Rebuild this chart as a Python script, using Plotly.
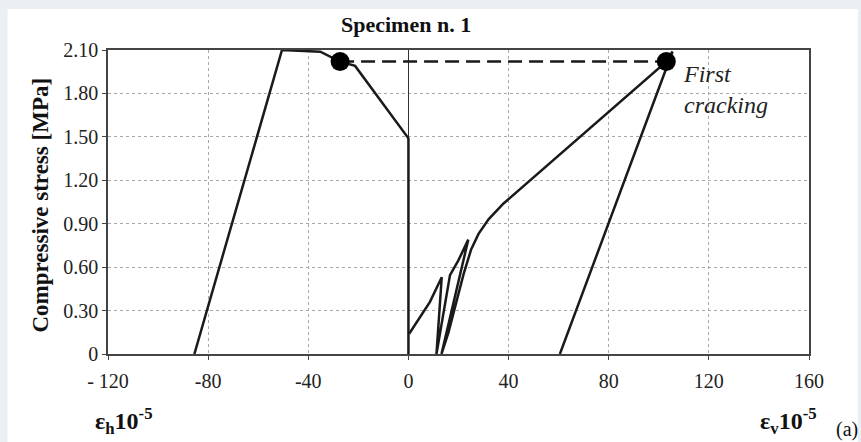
import plotly.graph_objects as go

# ---- data ----
eh_x = [0, 0, -21.3, -27.3, -35.2, -50.5, -85.5]
eh_y = [0, 1.49, 1.99, 2.02, 2.088, 2.10, 0]

ev_x = [0.3, 4.0, 8.6, 13.3, 11.2, 16.6, 19.9, 23.9, 13.2,
        16.0, 19.0, 22.0, 25.0, 28.0, 32.0, 38.0, 103.0, 105.5, 60.5]
ev_y = [0.14, 0.24, 0.36, 0.53, 0.0, 0.545, 0.645, 0.79, 0.0,
        0.15, 0.35, 0.55, 0.72, 0.83, 0.93, 1.04, 2.02, 2.09, 0.0]

crack_x = [-27.3, 103.0]
crack_y = [2.02, 2.02]

x_ticks = [-120, -80, -40, 0, 40, 80, 120, 160]
x_tick_text = ["- 120", "-80", "-40", "0", "40", "80", "120", "160"]
y_ticks = [0, 0.30, 0.60, 0.90, 1.20, 1.50, 1.80, 2.10]
y_tick_text = ["0", "0.30", "0.60", "0.90", "1.20", "1.50", "1.80", "2.10"]

SERIF = "Liberation Serif"
INK = "#1a1a1a"

# plot-area geometry in pixels
W, H = 861, 442
L, R, T, B = 107.5, 52, 50, 88
PW, PH = W - L - R, H - T - B


def px(xp):
    return (xp - L) / PW


def py(yp):
    return (H - B - yp) / PH


fig = go.Figure()

fig.add_trace(go.Scatter(x=eh_x, y=eh_y, mode="lines",
                         line=dict(color=INK, width=2.5), showlegend=False))
fig.add_trace(go.Scatter(x=ev_x, y=ev_y, mode="lines",
                         line=dict(color=INK, width=2.5), showlegend=False))
fig.add_trace(go.Scatter(x=crack_x, y=crack_y, mode="lines",
                         line=dict(color=INK, width=2.5, dash="14px,7px"),
                         showlegend=False))
fig.add_trace(go.Scatter(x=crack_x, y=crack_y, mode="markers",
                         marker=dict(color="#000000", size=19), showlegend=False))

axis_common = dict(
    showline=True, linecolor="#444444", linewidth=1.5, mirror=True,
    showgrid=True, gridcolor="#a8a8a8", gridwidth=1, griddash="dot",
    ticks="outside", ticklen=4, tickcolor="#444444",
    tickfont=dict(family=SERIF, size=20, color="#222222"),
)

fig.update_xaxes(range=[-120, 160], tickvals=x_ticks, ticktext=x_tick_text,
                 zeroline=True, zerolinecolor="#333333", zerolinewidth=1,
                 ticklabelstandoff=4, **axis_common)
fig.update_yaxes(range=[0, 2.10], tickvals=y_ticks, ticktext=y_tick_text,
                 zeroline=False, **axis_common)

annotations = [
    dict(text="<b>Specimen n. 1</b>", x=px(406), y=py(24),
         xanchor="center", yanchor="middle",
         font=dict(family=SERIF, size=22, color="#111111")),
    dict(text="<b>Compressive stress [MPa]</b>", x=px(39), y=py(205),
         textangle=-90, xanchor="center", yanchor="middle",
         font=dict(family=SERIF, size=23, color="#111111")),
    dict(text="<i>First<br>cracking</i>", x=px(681), y=py(89),
         xanchor="left", yanchor="middle", align="left",
         font=dict(family=SERIF, size=24, color="#222222")),
    dict(text="<b>ε<sub>h</sub>10<sup>-5</sup></b>", x=px(92), y=py(421),
         xanchor="left", yanchor="middle",
         font=dict(family=SERIF, size=24, color="#111111")),
    dict(text="<b>ε<sub>v</sub>10<sup>-5</sup></b>", x=px(758), y=py(421),
         xanchor="left", yanchor="middle",
         font=dict(family=SERIF, size=24, color="#111111")),
    dict(text="(a)", x=px(834), y=py(429),
         xanchor="left", yanchor="middle",
         font=dict(family=SERIF, size=20, color="#111111")),
]
for a in annotations:
    a.update(xref="paper", yref="paper", showarrow=False)

fig.update_layout(
    width=W, height=H,
    margin=dict(l=L, r=R, t=T, b=B, pad=0),
    paper_bgcolor="#e9eff3",
    plot_bgcolor="#ffffff",
    annotations=annotations,
    shapes=[dict(type="rect", xref="paper", yref="paper",
                 x0=px(7), x1=px(858), y0=py(442), y1=py(9),
                 fillcolor="#ffffff", line=dict(width=0), layer="below")],
)

fig.write_html("out.html")
